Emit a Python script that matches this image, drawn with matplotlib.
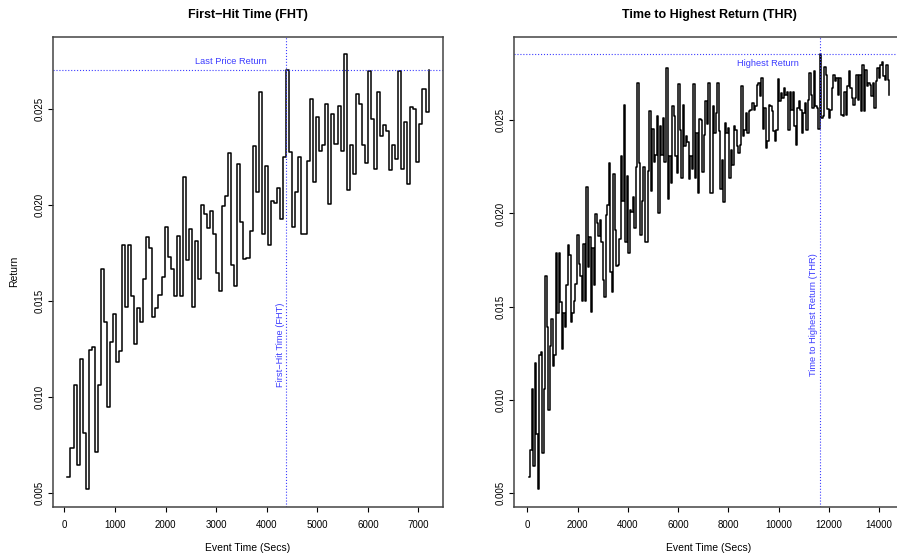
import matplotlib
matplotlib.use("Agg")
import matplotlib.pyplot as plt
import numpy as np

plt.rcParams['font.family'] = ['Liberation Sans', 'DejaVu Sans']

# returns sampled every 60 seconds (first 2 hours shown on the left panel)
step_secs = 60
ret_first = [0.00582, 0.00731, 0.01059, 0.00645, 0.01198, 0.00813, 0.00518, 0.01241, 0.01258, 0.00712,
             0.01059, 0.01666, 0.01389, 0.00946, 0.01286, 0.01432, 0.01182, 0.01238, 0.01789, 0.01467,
             0.01789, 0.01524, 0.01272, 0.01463, 0.01389, 0.01614, 0.01832, 0.01775, 0.01415, 0.01463,
             0.01532, 0.01623, 0.01884, 0.01727, 0.01666, 0.01527, 0.01836, 0.01527, 0.02143, 0.01711,
             0.01871, 0.01468, 0.01813, 0.01614, 0.01997, 0.01949, 0.01879, 0.01966, 0.01845, 0.01645,
             0.01553, 0.01992, 0.02047, 0.02269, 0.01688, 0.01579, 0.02214, 0.01909, 0.01718, 0.01723,
             0.01862, 0.02308, 0.02066, 0.02585, 0.01848, 0.02203, 0.01789, 0.02018, 0.02009, 0.02087,
             0.01923, 0.02249, 0.02700, 0.02273, 0.01883, 0.02065, 0.02247, 0.01848, 0.01848, 0.02226,
             0.02552, 0.02119, 0.02455, 0.02278, 0.02313, 0.02526, 0.02001, 0.02472, 0.02316, 0.02512,
             0.02278, 0.02784, 0.02079, 0.02309, 0.02162, 0.02576, 0.02526, 0.02309, 0.02217, 0.02694,
             0.02448, 0.02188, 0.02585, 0.02360, 0.02417, 0.02386, 0.02183, 0.02309, 0.02240, 0.02698,
             0.02188, 0.02431, 0.02108, 0.02507, 0.02500, 0.02223, 0.02422, 0.02604, 0.02483, 0.02700]

ret_second = [0.02111, 0.02111, 0.02575, 0.02432, 0.02540, 0.02700, 0.02441, 0.02129, 0.02289, 0.02061,
              0.02486, 0.02432, 0.02459, 0.02191, 0.02343, 0.02262, 0.02468, 0.02450, 0.02361, 0.02325,
              0.02370, 0.02682, 0.02414, 0.02450, 0.02539, 0.02432, 0.02548, 0.02557, 0.02593, 0.02557,
              0.02575, 0.02691, 0.02700, 0.02629, 0.02727, 0.02455, 0.02566, 0.02352, 0.02387, 0.02584,
              0.02575, 0.02548, 0.02441, 0.02387, 0.02450, 0.02723, 0.02602, 0.02646, 0.02620, 0.02673,
              0.02638, 0.02655, 0.02450, 0.02655, 0.02557, 0.02655, 0.02468, 0.02370, 0.02566, 0.02602,
              0.02557, 0.02432, 0.02539, 0.02593, 0.02450, 0.02611, 0.02754, 0.02638, 0.02566, 0.02763,
              0.02575, 0.02566, 0.02454, 0.02856, 0.02513, 0.02521, 0.02786, 0.02745, 0.02563, 0.02513,
              0.02557, 0.02673, 0.02745, 0.02709, 0.02727, 0.02638, 0.02727, 0.02530, 0.02521, 0.02655,
              0.02530, 0.02682, 0.02763, 0.02673, 0.02620, 0.02584, 0.02620, 0.02745, 0.02611, 0.02745,
              0.02548, 0.02798, 0.02548, 0.02771, 0.02682, 0.02700, 0.02691, 0.02629, 0.02700, 0.02566,
              0.02709, 0.02780, 0.02727, 0.02798, 0.02813, 0.02736, 0.02718, 0.02798, 0.02718, 0.02638]

yticks = [0.005, 0.010, 0.015, 0.020, 0.025]
xticks_left = [0, 1000, 2000, 3000, 4000, 5000, 6000, 7000]
xticks_right = [0, 2000, 4000, 6000, 8000, 10000, 12000, 14000]

ret_left = np.array(ret_first)
ret_all = np.array(ret_first + ret_second)
t_left = step_secs * np.arange(1, len(ret_left) + 1)
t_all = step_secs * np.arange(1, len(ret_all) + 1)

last_ret = ret_left[-1]
fht = t_left[np.argmax(ret_left >= last_ret)]
high_ret = ret_all.max()
thr = t_all[np.argmax(ret_all)]

blue = '#3d3dff'
W, H = 897, 554
fig = plt.figure(figsize=(W / 100, H / 100), dpi=100)


def px_axes(x0, x1, y0, y1):
    return fig.add_axes([x0 / W, 1 - y1 / H, (x1 - x0) / W, (y1 - y0) / H])


def style(ax, t, r, xticks, title, ylabel=None):
    ax.plot(t, r, drawstyle='steps-post', color='black', lw=1.1)
    span = t[-1] - t[0]
    ax.set_xlim(t[0] - 0.04 * span, t[-1] + 0.04 * span)
    rs = r.max() - r.min()
    ax.set_ylim(r.min() - 0.04 * rs, r.max() + 0.04 * rs)
    ax.set_xticks(xticks)
    ax.set_yticks(yticks)
    ax.set_yticklabels(['%.3f' % v for v in yticks], rotation=90, va='center')
    ax.tick_params(direction='out', length=3.6, width=0.8, labelsize=7)
    ax.tick_params(axis='x', pad=6.0)
    ax.tick_params(axis='y', pad=2.3)
    for s in ax.spines.values():
        s.set_color('#444444')
        s.set_linewidth(1.1)
    ax.set_title(title, y=1.046, pad=0, va='center', fontweight='bold', fontsize=9)
    ax.set_xlabel('Event Time (Secs)', fontsize=7.5, va='center')
    ax.xaxis.set_label_coords(0.5, -0.0885)
    if ylabel:
        ax.set_ylabel(ylabel, fontsize=7.5, va='center')
        ax.yaxis.set_label_coords(-0.1, 0.5)


# left panel: first-hit time
ax1 = px_axes(53, 443, 36.7, 506.7)
style(ax1, t_left, ret_left, xticks_left, 'First\u2212Hit Time (FHT)', 'Return')
ax1.axhline(last_ret, color=blue, ls=':', lw=0.8)
ax1.axvline(fht, color=blue, ls=':', lw=0.8)
ax1.annotate('Last Price Return', (3290, last_ret), xytext=(0, 6.2), textcoords='offset points',
             ha='center', va='center', color=blue, fontsize=6.7)
ax1.text(4263, 0.01268, 'First\u2212Hit Time (FHT)', rotation=90, ha='center', va='center',
         color=blue, fontsize=6.7)

# right panel: time to highest return
ax2 = px_axes(514.3, 903.7, 36.7, 506.7)
style(ax2, t_all, ret_all, xticks_right, 'Time to Highest Return (THR)')
ax2.axhline(high_ret, color=blue, ls=':', lw=0.8)
ax2.axvline(thr, color=blue, ls=':', lw=0.8)
ax2.annotate('Highest Return', (9574, high_ret), xytext=(0, -6.5), textcoords='offset points',
             ha='center', va='center', color=blue, fontsize=6.7)
ax2.text(11376, 0.01459, 'Time to Highest Return (THR)', rotation=90, ha='center', va='center',
         color=blue, fontsize=6.7)

fig.savefig('out.png', dpi=100)
